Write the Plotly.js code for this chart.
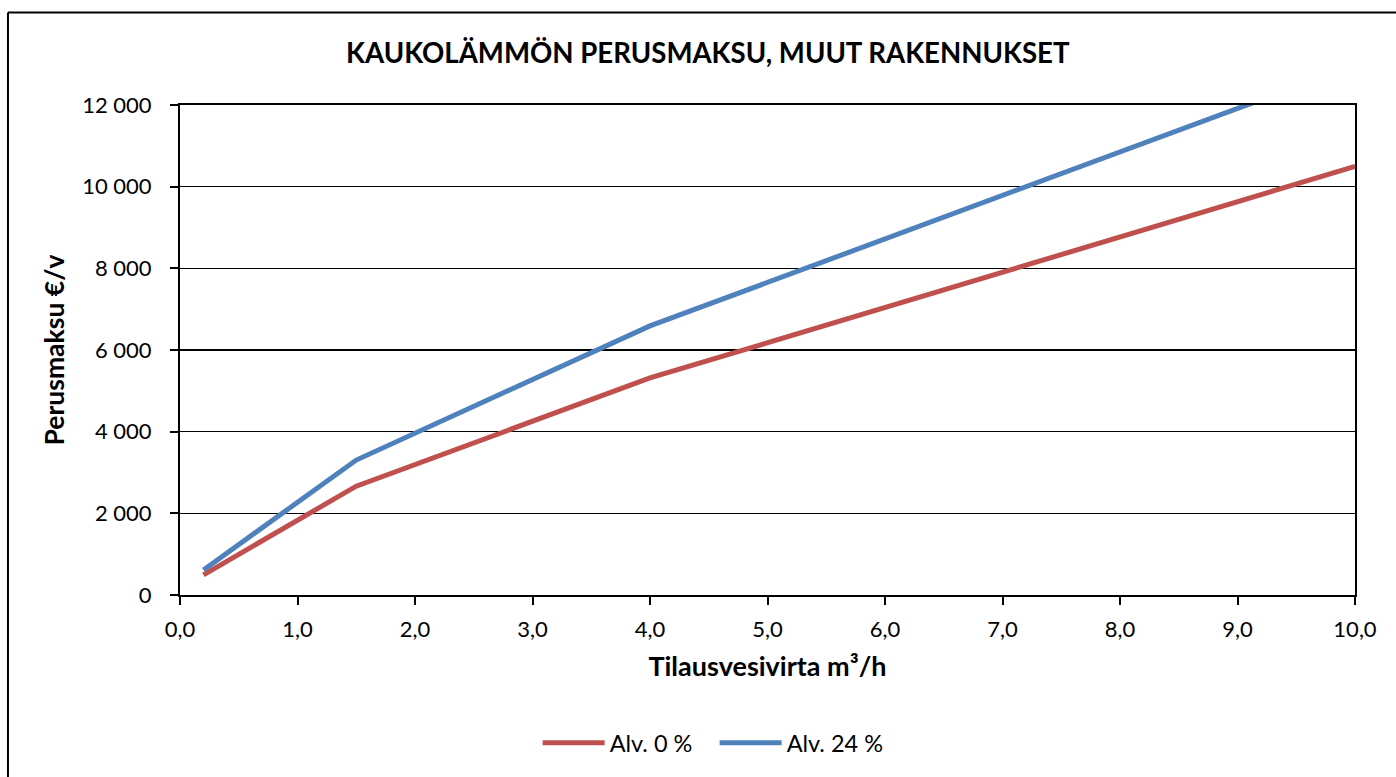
<!DOCTYPE html>
<html>
<head>
<meta charset="utf-8">
<script src="https://cdn.plot.ly/plotly-3.0.1.min.js"></script>
<style>
html,body{margin:0;padding:0;background:#fff;overflow:hidden;}
#chart{width:1396px;height:777px;}
</style>
</head>
<body>
<div id="chart"></div>
<script>
// Data
const flowRates = [0.2, 1.5, 4.0, 10.0];            // Tilausvesivirta m³/h
const feeVat0 = [495, 2665, 5315, 10495];          // Alv. 0 %  (€/v)
const feeVat24 = [614, 3305, 6590, 12980];         // Alv. 24 % (€/v)
const seriesNames = ["Alv. 0 %", "Alv. 24 %"];
const xTicks = [0, 1, 2, 3, 4, 5, 6, 7, 8, 9, 10];
const yTicks = [0, 2000, 4000, 6000, 8000, 10000, 12000];

const FONT = "Lato, 'Open Sans', sans-serif";

const traces = [
  {x: flowRates, y: feeVat0, name: seriesNames[0], mode: "lines",
   line: {color: "#C0504D", width: 5}},
  {x: flowRates, y: feeVat24, name: seriesNames[1], mode: "lines",
   line: {color: "#4F81BD", width: 5}}
];

const layout = {
  width: 1396, height: 777,
  paper_bgcolor: "#ffffff", plot_bgcolor: "#ffffff",
  separators: ", ",
  font: {family: FONT, color: "#000", size: 22},
  margin: {l: 180, r: 41, t: 105, b: 180},
  title: {text: "<b>KAUKOLÄMMÖN PERUSMAKSU, MUUT RAKENNUKSET</b>",
          font: {family: FONT, size: 27.6, color: "#000"},
          x: 0.507, xanchor: "center", y: 0.931, yanchor: "middle"},
  xaxis: {
    range: [0, 10], tickvals: xTicks, tickformat: ".1f",
    showgrid: false, zeroline: false,
    showline: true, linecolor: "#000", linewidth: 2, mirror: true,
    ticks: "outside", ticklen: 8, tickwidth: 2, tickcolor: "#000",
    ticklabelstandoff: 6,
    tickfont: {family: FONT, size: 22, color: "#000"},
    title: {text: "<b>Tilausvesivirta m³/h</b>", font: {family: FONT, size: 27, color: "#000"}, standoff: 16}
  },
  yaxis: {
    range: [0, 12000], tickvals: yTicks, tickformat: ",d",
    showgrid: true, gridcolor: "#000", gridwidth: 1.3, zeroline: false,
    showline: true, linecolor: "#000", linewidth: 2, mirror: true,
    ticks: "outside", ticklen: 8, tickwidth: 2, tickcolor: "#000",
    ticklabelstandoff: 14,
    tickfont: {family: FONT, size: 22, color: "#000"},
    title: {text: "<b>Perusmaksu €/v</b>", font: {family: FONT, size: 26.5, color: "#000"}, standoff: 10}
  },
  showlegend: true,
  legend: {orientation: "h", x: 0.455, xanchor: "center", y: -0.302, yanchor: "middle",
           font: {family: FONT, size: 23.5, color: "#000"}, itemwidth: 62, tracegroupgap: 0,
           entrywidth: 100, bgcolor: "rgba(0,0,0,0)"},
  shapes: [
    {type: "line", xref: "paper", yref: "paper", x0: -0.1464, x1: 1.3, y0: 1.189, y1: 1.189,
     line: {color: "#000", width: 2}},
    {type: "line", xref: "paper", yref: "paper", x0: -0.1464, x1: -0.1464, y0: 1.189, y1: -0.6,
     line: {color: "#000", width: 2}}
  ]
};

Plotly.newPlot("chart", traces, layout, {displayModeBar: false, staticPlot: true});
</script>
</body>
</html>
